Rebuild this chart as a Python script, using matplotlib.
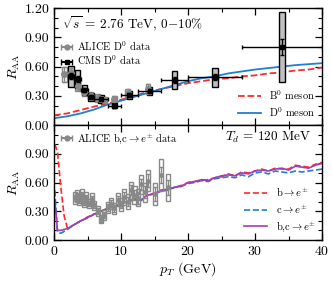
import matplotlib
matplotlib.use("Agg")
import matplotlib.pyplot as plt
from matplotlib.patches import Rectangle
from matplotlib.ticker import MultipleLocator, FixedLocator
import numpy as np

plt.rcParams['font.family'] = ['cmr10', 'DejaVu Serif']
plt.rcParams['mathtext.fontset'] = 'cm'
plt.rcParams['axes.formatter.use_mathtext'] = True
plt.rcParams['axes.unicode_minus'] = False

# ---- top panel: D meson data ----
alice_pt = [1.5, 2.5, 3.5, 4.5, 5.5, 6.5, 7.5, 9.0, 11.0, 14.0]
alice_raa = [0.52, 0.53, 0.40, 0.34, 0.30, 0.28, 0.26, 0.27, 0.33, 0.37]
alice_stat = [0.08, 0.06, 0.04, 0.03, 0.03, 0.03, 0.03, 0.03, 0.04, 0.05]
alice_syst = [0.08, 0.07, 0.05, 0.04, 0.04, 0.04, 0.03, 0.03, 0.04, 0.05]

cms_pt = [2.5, 3.5, 4.5, 5.5, 7.0, 9.0, 11.25, 14.25, 18.0, 24.0, 34.0]
cms_raa = [0.50, 0.47, 0.36, 0.29, 0.27, 0.20, 0.31, 0.35, 0.46, 0.49, 0.80]
cms_xerr = [0.5, 0.5, 0.5, 0.5, 1.0, 1.0, 1.25, 1.75, 2.0, 4.0, 6.0]
cms_stat = [0.03, 0.03, 0.02, 0.02, 0.02, 0.02, 0.02, 0.02, 0.03, 0.03, 0.08]
cms_syst = [0.11, 0.09, 0.05, 0.04, 0.04, 0.03, 0.04, 0.04, 0.09, 0.10, 0.36]

meson_pt = [0, 2, 4, 6, 8, 10, 12, 14, 16, 18, 20, 22, 24, 26, 28, 30, 32, 34, 36, 38, 40]
b0_raa = [0.10, 0.12, 0.155, 0.19, 0.22, 0.26, 0.30, 0.34, 0.37, 0.40, 0.43, 0.45,
          0.47, 0.48, 0.50, 0.51, 0.53, 0.54, 0.56, 0.57, 0.59]
d0_raa = [0.07, 0.09, 0.12, 0.16, 0.21, 0.25, 0.29, 0.33, 0.37, 0.41, 0.45, 0.48,
          0.50, 0.53, 0.55, 0.57, 0.585, 0.60, 0.615, 0.625, 0.635]

# ---- bottom panel: heavy-flavour electrons ----
hfe_pt = [3.1, 3.4, 3.7, 4.1, 4.4, 4.8, 5.2, 5.6, 6.0, 6.5, 7.0, 7.5, 8.0, 8.5,
          9.0, 9.5, 10.0, 10.5, 11.0, 11.5, 12.0, 12.5, 13.0, 13.5, 14.0, 15.0,
          16.0, 17.0]
hfe_raa = [0.44, 0.46, 0.42, 0.47, 0.40, 0.44, 0.38, 0.43, 0.36, 0.30, 0.22, 0.26,
           0.34, 0.38, 0.33, 0.42, 0.37, 0.45, 0.40, 0.52, 0.47, 0.44, 0.58, 0.50,
           0.62, 0.48, 0.68, 0.55]
hfe_stat = [0.03, 0.03, 0.03, 0.03, 0.03, 0.03, 0.03, 0.03, 0.03, 0.03, 0.03, 0.03,
            0.04, 0.04, 0.04, 0.04, 0.04, 0.05, 0.05, 0.05, 0.05, 0.06, 0.06, 0.06,
            0.07, 0.07, 0.08, 0.08]
hfe_syst = [0.06, 0.06, 0.06, 0.06, 0.06, 0.06, 0.05, 0.06, 0.05, 0.05, 0.04, 0.05,
            0.06, 0.06, 0.06, 0.07, 0.07, 0.08, 0.08, 0.09, 0.09, 0.09, 0.10, 0.10,
            0.11, 0.11, 0.17, 0.14]

e_pt = [0.1, 0.5, 1.0, 1.5, 2, 3, 4, 5, 6, 7, 8, 9, 10, 11, 12, 13, 14, 15, 16, 17,
        18, 19, 20, 21, 22, 23, 24, 25, 26, 27, 28, 29, 30, 31, 32, 33, 34, 35, 36,
        37, 38, 39, 40]
bc_e = [0.42, 0.10, 0.10, 0.11, 0.12, 0.16, 0.20, 0.235, 0.27, 0.30, 0.33, 0.35, 0.38,
        0.40, 0.43, 0.42, 0.47, 0.48, 0.52, 0.53, 0.55, 0.56, 0.60, 0.61, 0.63, 0.62,
        0.65, 0.67, 0.68, 0.67, 0.70, 0.69, 0.72, 0.73, 0.72, 0.74, 0.75, 0.73, 0.77,
        0.76, 0.75, 0.78, 0.80]
b_e = [1.00, 0.92, 0.55, 0.25, 0.12, 0.16, 0.20, 0.24, 0.27, 0.30, 0.33, 0.36, 0.38,
       0.40, 0.42, 0.43, 0.47, 0.49, 0.52, 0.53, 0.55, 0.57, 0.60, 0.61, 0.62, 0.63,
       0.65, 0.66, 0.69, 0.67, 0.71, 0.70, 0.72, 0.74, 0.72, 0.75, 0.74, 0.74, 0.78,
       0.77, 0.76, 0.79, 0.81]
c_e = [0.52, 0.08, 0.07, 0.09, 0.11, 0.16, 0.20, 0.23, 0.27, 0.30, 0.33, 0.35, 0.38,
       0.40, 0.43, 0.41, 0.47, 0.48, 0.51, 0.52, 0.55, 0.56, 0.59, 0.60, 0.62, 0.61,
       0.64, 0.65, 0.66, 0.65, 0.68, 0.66, 0.70, 0.71, 0.69, 0.72, 0.71, 0.70, 0.72,
       0.71, 0.72, 0.73, 0.74]

RED = '#ff2a2a'
BLUE = '#1f7fd0'
PURPLE = '#a43cb4'
GRAY = '#888888'

fig = plt.figure(figsize=(3.32, 2.81), dpi=100)
ax1 = fig.add_axes([0.163, 0.555, 0.807, 0.416])
ax2 = fig.add_axes([0.163, 0.146, 0.807, 0.409], sharex=ax1)


def boxes(ax, xs, ys, hs, w, ec, fc='none', lw=1.0):
    for x, y, h in zip(xs, ys, hs):
        ax.add_patch(Rectangle((x - w / 2, y - h), w, 2 * h, facecolor=fc,
                               edgecolor=ec, lw=lw, zorder=3))


# top panel
boxes(ax1, alice_pt, alice_raa, alice_syst, 0.7, GRAY)
ax1.errorbar(alice_pt, alice_raa, yerr=alice_stat, fmt='o', color=GRAY, ms=4,
             elinewidth=1.0, capsize=1.5, zorder=4)
boxes(ax1, cms_pt, cms_raa, cms_syst, 0.8, 'black', fc='#c0c0c0')
ax1.errorbar(cms_pt, cms_raa, xerr=cms_xerr, yerr=cms_stat, fmt='s', color='black',
             ms=3, elinewidth=1.0, capsize=1.5, zorder=5)
lb, = ax1.plot(meson_pt, b0_raa, '--', color=RED, lw=1.3)
ld, = ax1.plot(meson_pt, d0_raa, '-', color=BLUE, lw=1.3)

h_alice = ax1.errorbar([np.nan], [np.nan], xerr=[1], fmt='o', color=GRAY, ms=3.5,
                       capsize=2)
h_cms = ax1.errorbar([np.nan], [np.nan], xerr=[1], fmt='s', color='black', ms=3,
                     capsize=2)
leg1 = ax1.legend([h_alice, h_cms], [r'ALICE D$^0$ data', r'CMS D$^0$ data'],
                  loc='upper left', bbox_to_anchor=(0.0, 0.79), frameon=False,
                  fontsize=7.5, handlelength=1.2, handletextpad=0.4,
                  labelspacing=0.1, borderaxespad=0.2)
ax1.add_artist(leg1)
ax1.legend([lb, ld], [r'B$^0$ meson', r'D$^0$ meson'], loc='lower right',
           frameon=False, fontsize=7.5, handlelength=2.2, labelspacing=0.3,
           borderaxespad=0.2)
ax1.text(0.03, 0.95, r'$\sqrt{s}$ = 2.76 TeV, 0$-$10%', transform=ax1.transAxes,
         fontsize=9.5, va='top', ha='left')

# bottom panel
boxes(ax2, hfe_pt, hfe_raa, hfe_syst, 0.6, GRAY)
ax2.errorbar(hfe_pt, hfe_raa, yerr=hfe_stat, fmt='o', color=GRAY, ms=2.5,
             elinewidth=0.9, capsize=1.2, zorder=4)
l1, = ax2.plot(e_pt, b_e, '--', color=RED, lw=1.2)
l2, = ax2.plot(e_pt, c_e, '--', color=BLUE, lw=1.2)
l3, = ax2.plot(e_pt, bc_e, '-', color=PURPLE, lw=1.2)

h_hfe = ax2.errorbar([np.nan], [np.nan], xerr=[1], fmt='o', color=GRAY, ms=3.5,
                     capsize=2)
leg2 = ax2.legend([h_hfe], [r'ALICE b,c$\rightarrow e^{\pm}$ data'], loc='upper left',
                  frameon=False, fontsize=7.5, handlelength=1.2, handletextpad=0.4,
                  borderaxespad=0.2)
ax2.add_artist(leg2)
ax2.legend([l1, l2, l3], [r'b$\rightarrow e^{\pm}$', r'c$\rightarrow e^{\pm}$',
                          r'b,c$\rightarrow e^{\pm}$'],
           loc='lower right', frameon=False, fontsize=7.5, handlelength=2.2,
           labelspacing=0.3, borderaxespad=0.2)
ax2.text(0.96, 0.96, r'$T_d$ = 120 MeV', transform=ax2.transAxes, fontsize=9.5,
         va='top', ha='right')

for ax in (ax1, ax2):
    ax.set_xlim(0, 40)
    ax.set_ylim(0, 1.2)
    ax.xaxis.set_major_locator(MultipleLocator(10))
    ax.xaxis.set_minor_locator(MultipleLocator(5))
    ax.yaxis.set_minor_locator(MultipleLocator(0.1))
    ax.tick_params(which='both', direction='in', top=True, right=True, labelsize=10)
    ax.tick_params(which='major', length=5, width=0.9)
    ax.tick_params(which='minor', length=3, width=0.8)
    ax.set_ylabel(r'$R_{\rm AA}$', fontsize=10, labelpad=2)
    for s in ax.spines.values():
        s.set_linewidth(1.0)

ax1.yaxis.set_major_locator(FixedLocator([0, 0.3, 0.6, 0.9, 1.2]))
ax2.yaxis.set_major_locator(FixedLocator([0, 0.3, 0.6, 0.9]))
ax1.yaxis.set_major_formatter(plt.FormatStrFormatter('%.2f'))
ax2.yaxis.set_major_formatter(plt.FormatStrFormatter('%.2f'))
ax1.tick_params(labelbottom=False)
ax2.set_xlabel(r'$p_T$ (GeV)', fontsize=10, labelpad=2)

fig.savefig('out.png', dpi=100)
